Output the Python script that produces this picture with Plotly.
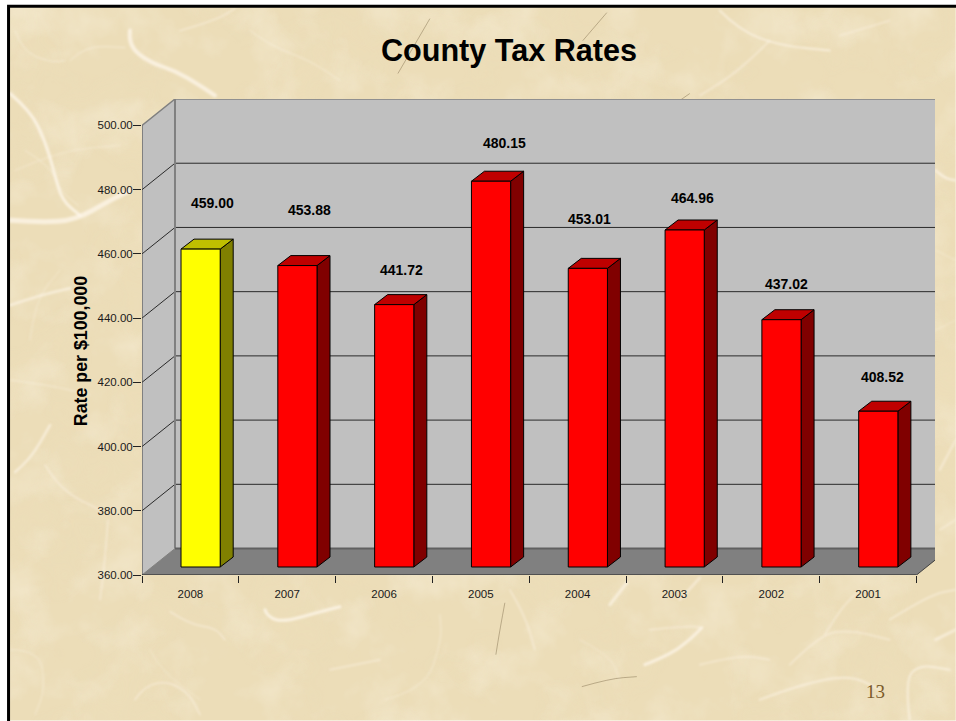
import base64
import plotly.graph_objects as go

# ---- data ----
years = ["2008", "2007", "2006", "2005", "2004", "2003", "2002", "2001"]
rates = [459.00, 453.88, 441.72, 480.15, 453.01, 464.96, 437.02, 408.52]
y_ticks = [360, 380, 400, 420, 440, 460, 480, 500]
title_text = "County Tax Rates"
y_title = "Rate per $100,000"

# ---- label placement (pixels relative to the bar) ----
label_dx = [22, 22, 17, 24, 12, 18, 15, 14]
label_lift = [46, 56, 35, 38, 49, 32, 36, 34]

# ---- pseudo-3D geometry, in axis units ----
W, H = 956, 721
L, R, T, B = 142, 916.8, 125, 575.2
PX_X = (R - L) / len(years)
PX_Y = (B - T) / (y_ticks[-1] - y_ticks[0])
WALL_DX = 33 / PX_X
WALL_DY = 26.5 / PX_Y
WALL_END = 935.3
BAR_W = 39.2 / PX_X
BAR_DX = 13 / PX_X
BAR_DY = 10 / PX_Y
BAR_SHIFT_X = 10.2 / PX_X
BAR_LIFT = 8 / PX_Y
Y0 = y_ticks[0]
Y1 = y_ticks[-1]
XEND = (WALL_END - L) / PX_X
YTOP = Y1 + WALL_DY
PLOT_T = T - 26.5

fig = go.Figure()


def poly(xs, ys, fill, line="rgba(0,0,0,0)", width=1):
    fig.add_trace(go.Scatter(
        x=xs, y=ys, mode="lines", fill="toself", fillcolor=fill,
        line=dict(color=line, width=width), cliponaxis=False,
        hoverinfo="skip", showlegend=False))


def seg(xs, ys, color, width=1):
    fig.add_trace(go.Scatter(
        x=xs, y=ys, mode="lines", line=dict(color=color, width=width),
        cliponaxis=False, hoverinfo="skip", showlegend=False))


# walls and floor
poly([WALL_DX, XEND, XEND, WALL_DX, WALL_DX],
     [YTOP, YTOP, Y0 + WALL_DY, Y0 + WALL_DY, YTOP], "#C0C0C0")
poly([0, WALL_DX, WALL_DX, 0, 0], [Y1, YTOP, Y0 + WALL_DY, Y0, Y1], "#C0C0C0")
end_frac = (XEND - len(years)) / WALL_DX
poly([0, len(years), XEND, XEND, WALL_DX, 0],
     [Y0, Y0, Y0 + WALL_DY * end_frac, Y0 + WALL_DY, Y0 + WALL_DY, Y0], "#808080")

# gridlines and wall edges
for v in y_ticks[1:-1]:
    seg([0, WALL_DX, XEND], [v, v + WALL_DY, v + WALL_DY], "#2a2a2a", 1)
seg([0, WALL_DX, XEND], [Y1, YTOP, YTOP], "#808080", 1.5)
seg([WALL_DX, WALL_DX], [Y0 + WALL_DY, YTOP], "#808080", 2)
seg([WALL_DX, XEND], [Y0 + WALL_DY, Y0 + WALL_DY], "#606060", 2)
seg([0, WALL_DX], [Y0, Y0 + WALL_DY], "#808080", 1)
seg([len(years), XEND], [Y0, Y0 + WALL_DY * end_frac], "#404040", 1)

# axis lines stop at the front plane
seg([0, 0], [Y0, Y1], "#404040", 1)
seg([0, len(years)], [Y0, Y0], "#222222", 1)

# bars
for i, v in enumerate(rates):
    x0 = i + 0.5 + BAR_SHIFT_X - BAR_W / 2
    x1 = x0 + BAR_W
    yb = Y0 + BAR_LIFT
    yt = v + BAR_LIFT
    front, top, side = ("#FFFF00", "#BFBF00", "#808000") if i == 0 else ("#FF0000", "#BF0000", "#800000")
    poly([x1, x1 + BAR_DX, x1 + BAR_DX, x1, x1],
         [yb, yb + BAR_DY, yt + BAR_DY, yt, yb], side, "#000000", 1)
    poly([x0, x0 + BAR_DX, x1 + BAR_DX, x1, x0],
         [yt, yt + BAR_DY, yt + BAR_DY, yt, yt], top, "#000000", 1)
    poly([x0, x1, x1, x0, x0], [yb, yb, yt, yt, yb], front, "#000000", 1)


def fx(px):
    return (px - L) / (WALL_END - L)


def fy(py):
    return 1 - (py - PLOT_T) / (B - PLOT_T)


# value labels and other free text
annotations = []
for i, v in enumerate(rates):
    annotations.append(dict(
        x=i + 0.5, y=v, xref="x", yref="y", text=f"{v:.2f}", showarrow=False,
        xanchor="center", yanchor="middle",
        xshift=label_dx[i], yshift=8 + label_lift[i],
        font=dict(family="Liberation Sans", size=14, color="#000000", weight="bold")))
annotations.append(dict(
    x=fx(876), y=fy(692), xref="paper", yref="paper", text="13", showarrow=False,
    xanchor="center", yanchor="middle",
    font=dict(family="Liberation Serif", size=19, color="#7B5A2A")))
annotations.append(dict(
    x=fx(81), y=fy(351), xref="paper", yref="paper", text=y_title, showarrow=False,
    xanchor="center", yanchor="middle", textangle=-90,
    font=dict(family="Liberation Sans", size=17.8, color="#000000", weight="bold")))


# ---- paper texture (background decoration only) ----
def strand(points):
    d = f"M{points[0][0]} {points[0][1]}"
    for k in range(1, len(points) - 1):
        mx = (points[k][0] + points[k + 1][0]) / 2
        my = (points[k][1] + points[k + 1][1]) / 2
        d += f" Q{points[k][0]} {points[k][1]} {mx} {my}"
    d += f" L{points[-1][0]} {points[-1][1]}"
    return d


fibres = [
    ([(10, 93), (30, 110), (45, 140), (55, 175), (62, 200), (80, 215)], 3, .75),
    ([(10, 220), (40, 222), (75, 220), (110, 200), (130, 190)], 5, .7),
    ([(130, 30), (128, 45), (150, 62), (175, 70), (200, 85), (215, 95)], 4, .7),
    ([(70, 60), (85, 45), (125, 47)], 1, .5),
    ([(15, 30), (22, 50), (50, 62), (65, 60)], 1, .5),
    ([(180, 30), (215, 20), (235, 8)], 1.5, .5),
    ([(250, 30), (270, 45), (310, 60), (340, 80)], 1, .5),
    ([(25, 150), (50, 165), (60, 190), (78, 205)], 1, .45),
    ([(10, 305), (40, 295), (70, 288)], 2.5, .6),
    ([(15, 472), (30, 460), (50, 425)], 2.5, .6),
    ([(45, 465), (60, 490), (100, 510)], 1.5, .5),
    ([(10, 380), (50, 385), (90, 395)], 1, .5),
    ([(108, 520), (105, 560), (100, 600)], 1.5, .5),
    ([(15, 170), (60, 150), (120, 145)], 1, .4),
    ([(30, 340), (35, 300), (60, 270)], 1, .4),
    ([(265, 610), (268, 618), (285, 622), (320, 612), (340, 607)], 3, .75),
    ([(170, 612), (190, 625), (215, 628), (225, 640)], 1.5, .5),
    ([(135, 700), (145, 685), (170, 682), (190, 695), (200, 715)], 1.5, .5),
    ([(330, 670), (380, 660)], 1.5, .5),
    ([(385, 700), (425, 690), (442, 640), (440, 615)], 1, .45),
    ([(10, 650), (40, 650), (45, 690), (35, 715)], 1, .45),
    ([(150, 650), (160, 670), (200, 700)], 1, .35),
    ([(627, 583), (610, 605)], 3, .6),
    ([(700, 578), (680, 600)], 2.5, .5),
    ([(645, 665), (670, 655), (690, 640), (702, 628)], 3, .7),
    ([(510, 590), (525, 615), (535, 650)], 1.5, .5),
    ([(650, 630), (690, 626), (702, 628)], 1.5, .5),
    ([(700, 665), (740, 655), (770, 660)], 1.5, .5),
    ([(760, 700), (800, 685), (850, 675), (880, 690)], 2, .55),
    ([(825, 635), (840, 610), (860, 590)], 1.5, .5),
    ([(790, 665), (820, 635), (850, 630), (890, 640)], 1.5, .5),
    ([(910, 720), (905, 680), (920, 665), (950, 670)], 2, .6),
    ([(890, 620), (930, 595), (956, 590)], 1.5, .55),
    ([(936, 640), (956, 630)], 3, .55),
    ([(580, 640), (610, 655), (620, 680)], 1, .4),
    ([(720, 10), (740, 30), (780, 45), (830, 50)], 2, .6),
    ([(770, 40), (740, 70), (700, 95)], 1.5, .5),
    ([(840, 35), (890, 20)], 1.5, .5),
    ([(936, 170), (945, 178), (956, 180)], 2.5, .65),
    ([(936, 250), (956, 260)], 1, .4),
    ([(936, 330), (956, 320)], 1, .4),
    ([(940, 470), (956, 440)], 2, .5),
    ([(940, 530), (956, 520)], 1.5, .5),
]
hairs = [
    [(430, 18), (398, 73)],
    [(607, 12), (583, 40)],
    [(690, 93), (680, 100)],
    [(582, 687), (610, 679), (637, 677)],
    [(505, 603), (500, 630), (496, 655)],
]

fibre_svg = "".join(
    f'<path d="{strand(p)}" fill="none" stroke="#FFF8EE" stroke-opacity="{a}" '
    f'stroke-width="{w}" stroke-linecap="round"/>' for p, w, a in fibres)
hair_svg = "".join(
    f'<path d="{strand(p)}" fill="none" stroke="#786446" stroke-opacity=".55" stroke-width=".8"/>'
    for p in hairs)
svg = f'''<svg xmlns="http://www.w3.org/2000/svg" width="{W}" height="{H}" viewBox="0 0 {W} {H}">
<defs>
<filter id="light" x="0" y="0" width="100%" height="100%">
<feTurbulence type="fractalNoise" baseFrequency=".02" numOctaves="4" seed="5"/>
<feColorMatrix values="0 0 0 0 1 0 0 0 0 .96 0 0 0 0 .86 2.2 0 0 0 -1.0"/></filter>
<filter id="dark" x="0" y="0" width="100%" height="100%">
<feTurbulence type="fractalNoise" baseFrequency=".012" numOctaves="3" seed="11"/>
<feColorMatrix values="0 0 0 0 .87 0 0 0 0 .76 0 0 0 0 .52 2.0 0 0 0 -0.95"/></filter>
<filter id="soft" x="-5%" y="-5%" width="110%" height="110%"><feGaussianBlur stdDeviation=".9"/></filter>
</defs>
<rect width="{W}" height="{H}" fill="#FFFFFF"/>
<rect x="8" y="5" width="{W}" height="{H}" fill="#ECDDB8"/>
<rect x="9" y="6" width="{W}" height="{H}" filter="url(#dark)" opacity=".3"/>
<rect x="9" y="6" width="{W}" height="{H}" filter="url(#light)" opacity=".3"/>
<g filter="url(#soft)">{fibre_svg}</g>
{hair_svg}
</svg>'''
texture = "data:image/svg+xml;base64," + base64.b64encode(svg.encode()).decode()

images = [dict(source=texture, xref="paper", yref="paper", layer="below",
               x=fx(0), y=fy(0), sizex=fx(W) - fx(0), sizey=fy(0) - fy(H),
               xanchor="left", yanchor="top", sizing="stretch")]
shapes = [dict(type="rect", xref="paper", yref="paper", layer="below",
               x0=fx(8.5), x1=fx(970), y0=fy(5.5), y1=fy(735),
               line=dict(color="#000000", width=3))]

axis_font = dict(family="Liberation Sans", size=11.5, color="#1a1a1a")

fig.update_layout(
    width=W, height=H, autosize=False,
    margin=dict(l=L, r=W - WALL_END, t=PLOT_T, b=H - B, pad=0),
    paper_bgcolor="#FFFFFF", plot_bgcolor="rgba(0,0,0,0)",
    showlegend=False, shapes=shapes, images=images, annotations=annotations,
    title=dict(text=title_text, x=509 / W, xanchor="center", xref="container",
               y=1 - 50 / H, yanchor="middle", yref="container",
               font=dict(family="Liberation Sans", size=30.6, color="#000000", weight="bold")),
    xaxis=dict(range=[0, XEND], tickmode="array",
               tickvals=[i + 0.5 for i in range(len(years))], ticktext=years,
               ticks="outside", ticklen=8, tickcolor="rgba(0,0,0,0)", tickfont=axis_font,
               minor=dict(tickmode="array", tickvals=list(range(len(years) + 1)),
                          ticks="outside", ticklen=7, tickcolor="#222222", tickwidth=1),
               showline=False, showgrid=False, zeroline=False, fixedrange=True),
    yaxis=dict(range=[Y0, YTOP], tickmode="array", tickvals=y_ticks,
               ticktext=[f"{v:.2f}" for v in y_ticks],
               ticks="outside", ticklen=8, tickcolor="#222222", tickfont=axis_font,
               ticklabelstandoff=-2,
               showline=False, showgrid=False, zeroline=False, fixedrange=True),
)

fig.write_html("out.html", config=dict(displayModeBar=False),
               post_script="document.body.style.margin='0';document.body.style.overflow='hidden';")
